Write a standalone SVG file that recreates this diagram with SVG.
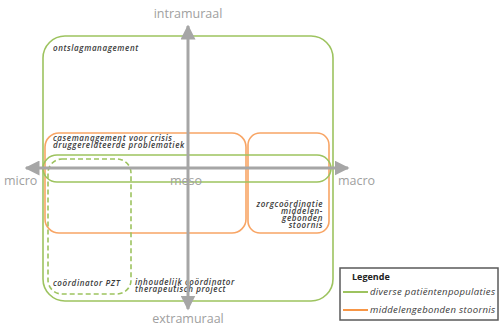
<svg xmlns="http://www.w3.org/2000/svg" width="499" height="326" viewBox="0 0 499 326">
<style>
.g{fill:none;stroke:#9dc35f;stroke-width:1.6}
.o{fill:none;stroke:#f8a565;stroke-width:1.6}
.ax{fill:none;stroke:#a6a6a6;stroke-width:3}
.axt{font-family:"Open Sans","DejaVu Sans",sans-serif;font-size:12.5px;fill:#a0a0a0}
.t{font-family:"Open Sans","DejaVu Sans",sans-serif;font-size:8px;font-style:italic;font-weight:600;fill:#3a3a3a;letter-spacing:0.6px}
.lg{font-family:"Open Sans","DejaVu Sans",sans-serif;font-size:9.5px;font-style:italic;fill:#3a3a3a;letter-spacing:0.35px}
</style>
<defs>
<marker id="ah" markerWidth="5" markerHeight="5" refX="4.5" refY="2.5" orient="auto" markerUnits="strokeWidth">
<path d="M0,0 L5,2.5 L0,5 Z" fill="#a6a6a6"/>
</marker>
</defs>
<rect width="499" height="326" fill="#ffffff"/>
<g id="ontslagmanagement">
<rect class="g" x="43" y="36" width="290" height="265" rx="22"/>
<text class="t" x="53" y="51">ontslagmanagement</text>
</g>
<g id="casemanagement">
<rect class="o" x="45" y="133" width="201" height="100" rx="14"/>
<text class="t" x="53" y="140.5">casemanagement voor crisis</text>
<text class="t" x="53" y="147.5">druggerelateerde problematiek</text>
</g>
<g id="zorgcoordinatie">
<rect class="o" x="248" y="133" width="81" height="100" rx="12"/>
<text class="t" text-anchor="end" x="323" y="206.5">zorgcoördinatie</text>
<text class="t" text-anchor="end" x="323" y="213.5">middelen-</text>
<text class="t" text-anchor="end" x="323" y="220.5">gebonden</text>
<text class="t" text-anchor="end" x="323" y="227.5">stoornis</text>
</g>
<g id="inhoudelijk-coordinator">
<rect class="g" x="43" y="155" width="288" height="27" rx="14" ry="13.5"/>
<text class="t" x="135" y="285">inhoudelijk coördinator</text>
<text class="t" x="135" y="292">therapeutisch project</text>
</g>
<g id="coordinator-pzt">
<rect class="g" x="48" y="159" width="83" height="135" rx="14" stroke-dasharray="5,3"/>
<text class="t" x="53" y="286">coördinator PZT</text>
</g>
<g id="connectors">
<line class="ax" x1="188" y1="168" x2="188" y2="26" marker-end="url(#ah)"/>
<line class="ax" x1="188" y1="168" x2="188" y2="309" marker-end="url(#ah)"/>
<line class="ax" x1="188" y1="168" x2="26" y2="168" marker-end="url(#ah)"/>
<line class="ax" x1="188" y1="168" x2="348" y2="168" marker-end="url(#ah)"/>
</g>
<g id="axis-labels">
<text class="axt" x="188" y="18" text-anchor="middle">intramuraal</text>
<text class="axt" x="188" y="323" text-anchor="middle">extramuraal</text>
<text class="axt" x="4" y="185">micro</text>
<text class="axt" x="170" y="185">meso</text>
<text class="axt" x="338" y="185">macro</text>
</g>
<g id="legende">
<rect x="340" y="268" width="158" height="52" fill="#ffffff" stroke="#5a5a5a" stroke-width="1.5"/>
<text x="352" y="280" font-family="'Open Sans','DejaVu Sans',sans-serif" font-size="9px" font-weight="700" fill="#222">Legende</text>
<line x1="343" y1="292" x2="368" y2="292" stroke="#9dc35f" stroke-width="2"/>
<text class="lg" x="370" y="295">diverse patiëntenpopulaties</text>
<line x1="343" y1="310" x2="368" y2="310" stroke="#f79646" stroke-width="2"/>
<text class="lg" x="370" y="313">middelengebonden stoornis</text>
</g>
</svg>
